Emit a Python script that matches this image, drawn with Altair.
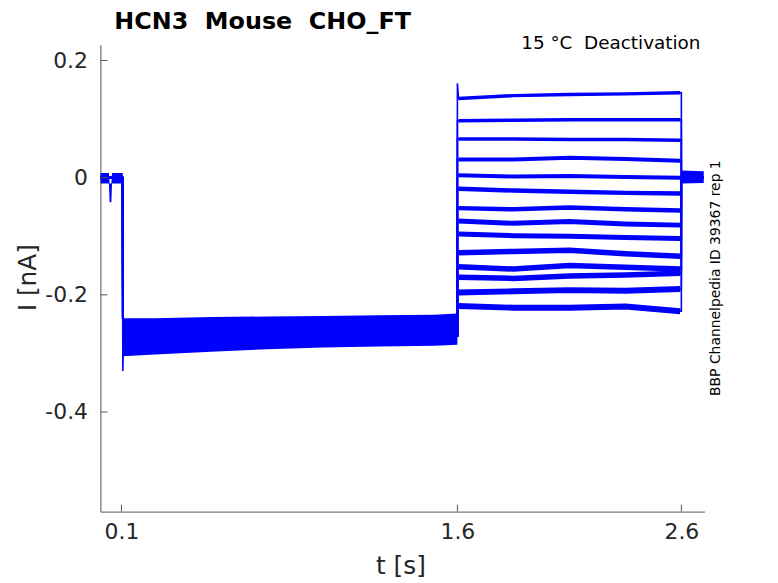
import altair as alt
import pandas as pd

# ---------------- data ----------------
# test-pulse segment sample times (s) and current levels (nA) for 14 sweeps
test_t = [1.605, 1.85, 2.1, 2.35, 2.595]
test_levels = [
    [0.135, 0.140, 0.142, 0.143, 0.145],
    [0.097, 0.098, 0.099, 0.099, 0.099],
    [0.066, 0.066, 0.065, 0.065, 0.064],
    [0.031, 0.031, 0.034, 0.032, 0.029],
    [0.004, 0.002, 0.003, 0.001, 0.000],
    [-0.019, -0.022, -0.024, -0.026, -0.027],
    [-0.052, -0.054, -0.051, -0.054, -0.056],
    [-0.074, -0.078, -0.075, -0.079, -0.081],
    [-0.096, -0.099, -0.100, -0.102, -0.104],
    [-0.128, -0.126, -0.124, -0.130, -0.134],
    [-0.152, -0.156, -0.150, -0.153, -0.156],
    [-0.170, -0.172, -0.168, -0.166, -0.163],
    [-0.196, -0.194, -0.192, -0.193, -0.190],
    [-0.219, -0.222, -0.222, -0.220, -0.228],
]
test_noise = [3.5, 3.5, 3.5, 4, 4, 4.5, 4.5, 5, 5, 5.5, 5.5, 5.5, 6, 6]

# holding segment envelope (s, nA)
hold_t = [0.106, 0.25, 0.5, 0.75, 1.0, 1.25, 1.5, 1.6]
hold_upper = [-0.240, -0.240, -0.238, -0.237, -0.236, -0.235, -0.234, -0.232]
hold_lower = [-0.305, -0.302, -0.297, -0.293, -0.290, -0.288, -0.287, -0.285]

# baseline segment envelope, with the small dip
base_t = [0.006, 0.044, 0.047, 0.055, 0.058, 0.106]
base_upper = [0.008, 0.008, -0.010, -0.010, 0.008, 0.008]
base_lower = [-0.010, -0.010, -0.042, -0.042, -0.010, -0.010]

# tail after the test pulse
tail_t = [2.6, 2.7]
tail_upper = [0.012, 0.011]
tail_lower = [-0.010, -0.009]

hold_level = -0.27
onset_spike = -0.33
test_spike = 0.161
start_t, step1_t, step2_t, step3_t, end_t = 0.006, 0.106, 1.6, 2.6, 2.7

x_ticks = [0.1, 1.6, 2.6]
y_ticks = [-0.4, -0.2, 0.0, 0.2]
x_domain = [0.006, 2.703]
y_domain = [-0.57, 0.227]

BLUE = "#0000ff"
FONT = "DejaVu Sans"
NB = "\u00a0"

# ---------------- build tables ----------------
full_rows = []
test_rows = []
for i, lev in enumerate(test_levels):
    pts = [(start_t, 0.0), (step1_t - 0.001, 0.0),
           (step1_t, onset_spike if i == len(test_levels) - 1 else hold_level),
           (step1_t + 0.004, hold_level), (step2_t, hold_level),
           (step2_t, test_spike if i == 0 else lev[0])]
    pts += list(zip(test_t, lev))
    pts += [(step3_t, lev[-1]), (step3_t, 0.0), (end_t, 0.0)]
    for k, (t, v) in enumerate(pts):
        full_rows.append({"sweep": i, "k": k, "t": t, "I": v})
    for k, (t, v) in enumerate(zip(test_t, lev)):
        test_rows.append({"sweep": i, "k": k, "t": t, "I": v, "w": test_noise[i]})

full_df = pd.DataFrame(full_rows)
test_df = pd.DataFrame(test_rows)
band_df = pd.concat([
    pd.DataFrame({"seg": "base", "t": base_t, "lo": base_lower, "hi": base_upper}),
    pd.DataFrame({"seg": "hold", "t": hold_t, "lo": hold_lower, "hi": hold_upper}),
    pd.DataFrame({"seg": "tail", "t": tail_t, "lo": tail_lower, "hi": tail_upper}),
])
xt_df = pd.DataFrame({"t": x_ticks})
yt_df = pd.DataFrame({"I": y_ticks})

W, H = 608, 470
xs = alt.Scale(domain=x_domain, nice=False, zero=False)
ys = alt.Scale(domain=y_domain, nice=False, zero=False)

minus_fix = "replace(datum.value == 0 ? '0' : format(datum.value, '.1f'), '\u2212', '-')"

x_axis = alt.Axis(values=x_ticks, ticks=False, tickSize=0, grid=False, labelFontSize=22,
                  labelFont=FONT, labelColor="#262626", labelPadding=10, domainColor="#555555",
                  title="t [s]", titleFontSize=25, titleFont=FONT, titleFontWeight="normal",
                  titleColor="#262626", titleX=302, titleY=54, titleBaseline="middle",
                  titleAlign="center", labelFlush=False, format=".1f")
y_axis = alt.Axis(values=y_ticks, ticks=False, tickSize=0, grid=False, labelFontSize=22,
                  labelFont=FONT, labelColor="#262626", labelPadding=13, domainColor="#555555",
                  title="I [nA]", titleFontSize=25, titleFont=FONT, titleFontWeight="normal",
                  titleColor="#262626", titleX=-73, titleY=234, titleAngle=270,
                  titleBaseline="middle", titleAlign="center", labelExpr=minus_fix,
                  labelFlush=False)

base = alt.Chart(band_df)

bands = base.mark_area(color=BLUE, opacity=1, clip=True).encode(
    x=alt.X("t:Q", scale=xs, axis=x_axis),
    y=alt.Y("lo:Q", scale=ys, axis=y_axis),
    y2="hi:Q",
    detail="seg:N",
)

thin = alt.Chart(full_df).mark_line(color=BLUE, strokeWidth=1.6, clip=True).encode(
    x=alt.X("t:Q", scale=xs), y=alt.Y("I:Q", scale=ys),
    detail="sweep:N", order="k:Q",
)

thick = alt.Chart(test_df).mark_line(color=BLUE, clip=True, strokeJoin="round").encode(
    x=alt.X("t:Q", scale=xs), y=alt.Y("I:Q", scale=ys),
    detail="sweep:N", order="k:Q",
    strokeWidth=alt.StrokeWidth("w:Q", scale=None),
)

xticks = alt.Chart(xt_df).mark_rule(color="#555555", strokeWidth=1).encode(
    x=alt.X("t:Q", scale=xs), y=alt.value(H), y2=alt.value(H - 7),
)
yticks = alt.Chart(yt_df).mark_rule(color="#555555", strokeWidth=1).encode(
    y=alt.Y("I:Q", scale=ys), x=alt.value(0), x2=alt.value(7),
)

txt_df = pd.DataFrame({"s": ["x"]})
title_txt = alt.Chart(txt_df).mark_text(
    text=f"HCN3{NB}{NB}Mouse{NB}{NB}CHO_FT", font=FONT, fontSize=24, fontWeight="bold",
    color="black", align="left", baseline="alphabetic").encode(x=alt.value(14), y=alt.value(-16))
cond_txt = alt.Chart(txt_df).mark_text(
    text=f"15 \u00b0C{NB}{NB}Deactivation", font=FONT, fontSize=18.5, color="black",
    align="right", baseline="alphabetic").encode(x=alt.value(604), y=alt.value(4))
id_txt = alt.Chart(txt_df).mark_text(
    text="BBP Channelpedia ID 39367 rep 1", font=FONT, fontSize=14, color="black",
    align="center", baseline="middle", angle=270).encode(x=alt.value(620), y=alt.value(235))

chart = alt.layer(bands, thin, thick, xticks, yticks, title_txt, cond_txt, id_txt).properties(
    width=W, height=H, autosize="none",
    padding={"left": 93, "top": 35, "right": 66, "bottom": 75},
    background="white",
).configure_view(stroke=None)

chart.save("out.html", embed_options={"renderer": "svg", "actions": False})
